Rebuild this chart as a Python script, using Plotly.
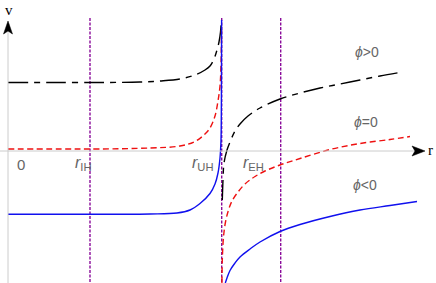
import plotly.graph_objects as go

# ---- data (r, v) ----
black_left_r = [0, 42, 92, 132, 152, 172, 187, 197, 202, 206, 209, 211, 212.5, 213.3]
black_left_v = [68.5, 68.5, 68.5, 69, 70, 72, 76, 81, 85, 92, 101, 109, 119, 129]
black_right_r = [214.3, 215, 216, 219, 222, 227, 232, 240, 252, 272, 292, 312, 332, 352, 372, 392]
black_right_v = [-49, -29, -12, 1, 9, 20, 27, 35, 43, 52, 58, 63, 67, 71, 75, 78.5]

red_left_r = [0, 52, 92, 142, 172, 187, 197, 202, 207, 210, 212, 213, 213.5]
red_left_v = [2, 2, 2, 3, 5, 9.5, 17, 23, 35, 50, 65, 86, 121]
red_right_r = [213.9, 214.3, 215.5, 217.5, 220.5, 224, 230, 237, 247, 257, 272, 292, 322, 352, 382, 402]
red_right_v = [-132, -109, -86, -71, -59, -50, -41, -33, -25.5, -20, -14, -7.5, 1.5, 7.5, 11.5, 14.5]

blue_left_r = [0, 52, 92, 142, 169, 182, 192, 202, 207, 210, 212, 213, 213.4, 213.6]
blue_left_v = [-63.3, -63.3, -63.3, -63, -62, -59, -52.5, -42.5, -33, -22, -7, 11, 51, 131]
blue_right_r = [217.3, 219, 222, 227, 232, 242, 252, 272, 292, 322, 352, 382, 409]
blue_right_v = [-132, -127, -119.5, -112, -106, -98, -91, -80.5, -73.5, -65.5, -59, -54.5, -50.5]

horizon_r = [82, 213.7, 272.7]
horizon_labels = ["<i>r</i><sub>IH</sub>", "<i>r</i><sub>UH</sub>", "<i>r</i><sub>EH</sub>"]
horizon_label_r = [75, 195, 245]

phi_labels = ["<i>ϕ</i>>0", "<i>ϕ</i>=0", "<i>ϕ</i><0"]
phi_label_r = [359, 358, 357]
phi_label_v = [99, 29, -34]

X_RANGE = [-8, 428]
Y_RANGE = [-132, 151]

fig = go.Figure()

# horizon lines
for r in horizon_r:
    fig.add_trace(go.Scatter(x=[r, r], y=[133, -132], mode="lines",
                             line=dict(color="#8a0c9a", width=1.4, dash="3px,1.5px"),
                             hoverinfo="skip", showlegend=False))

black = dict(color="black", width=1.4, dash="20px,6px,6px,6px")
red = dict(color="#ee1111", width=1.4, dash="6px,3.5px")
blue = dict(color="#1010ee", width=1.4)

for xs, ys, ln in [(black_left_r, black_left_v, black), (black_right_r, black_right_v, black),
                   (red_left_r, red_left_v, red), (red_right_r, red_right_v, red),
                   (blue_left_r, blue_left_v, blue), (blue_right_r, blue_right_v, blue)]:
    fig.add_trace(go.Scatter(x=xs, y=ys, mode="lines", line=ln, line_shape="spline",
                             hoverinfo="skip", showlegend=False))

shapes = [
    # horizontal axis
    dict(type="line", x0=-8, x1=407, y0=0, y1=0, line=dict(color="#cccccc", width=1)),
    # vertical axis
    dict(type="line", x0=0, x1=0, y0=120, y1=-132, line=dict(color="#cccccc", width=1)),
    # arrow heads
    dict(type="path", path="M 417,0 L 404,5 L 407,0 L 404,-5 Z",
         fillcolor="black", line=dict(color="black", width=0.5)),
    dict(type="path", path="M 0,130 L -4.5,117 L 0,120 L 4.5,117 Z",
         fillcolor="black", line=dict(color="black", width=0.5)),
]

annotations = [
    dict(x=0.5, y=141, text="v", showarrow=False,
         font=dict(family="Liberation Serif", size=15, color="black")),
    dict(x=422, y=1, text="r", showarrow=False,
         font=dict(family="Liberation Serif", size=15, color="black")),
    dict(x=12.5, y=-13, text="0", showarrow=False,
         font=dict(family="Liberation Sans", size=15, color="#666666")),
]
for t, r in zip(horizon_labels, horizon_label_r):
    annotations.append(dict(x=r, y=-12, text=t, showarrow=False,
                            font=dict(family="Liberation Sans", size=16, color="#666666")))
for t, r, v in zip(phi_labels, phi_label_r, phi_label_v):
    annotations.append(dict(x=r, y=v, text=t, showarrow=False,
                            font=dict(family="Liberation Sans", size=14, color="#666666")))

fig.update_layout(
    width=436, height=283,
    margin=dict(l=0, r=0, t=0, b=0),
    paper_bgcolor="white", plot_bgcolor="white",
    xaxis=dict(range=X_RANGE, visible=False, fixedrange=True),
    yaxis=dict(range=Y_RANGE, visible=False, fixedrange=True),
    shapes=shapes, annotations=annotations,
)

fig.write_html("out.html", config={"displayModeBar": False},
               post_script="document.body.style.margin='0';document.body.style.overflow='hidden';")
